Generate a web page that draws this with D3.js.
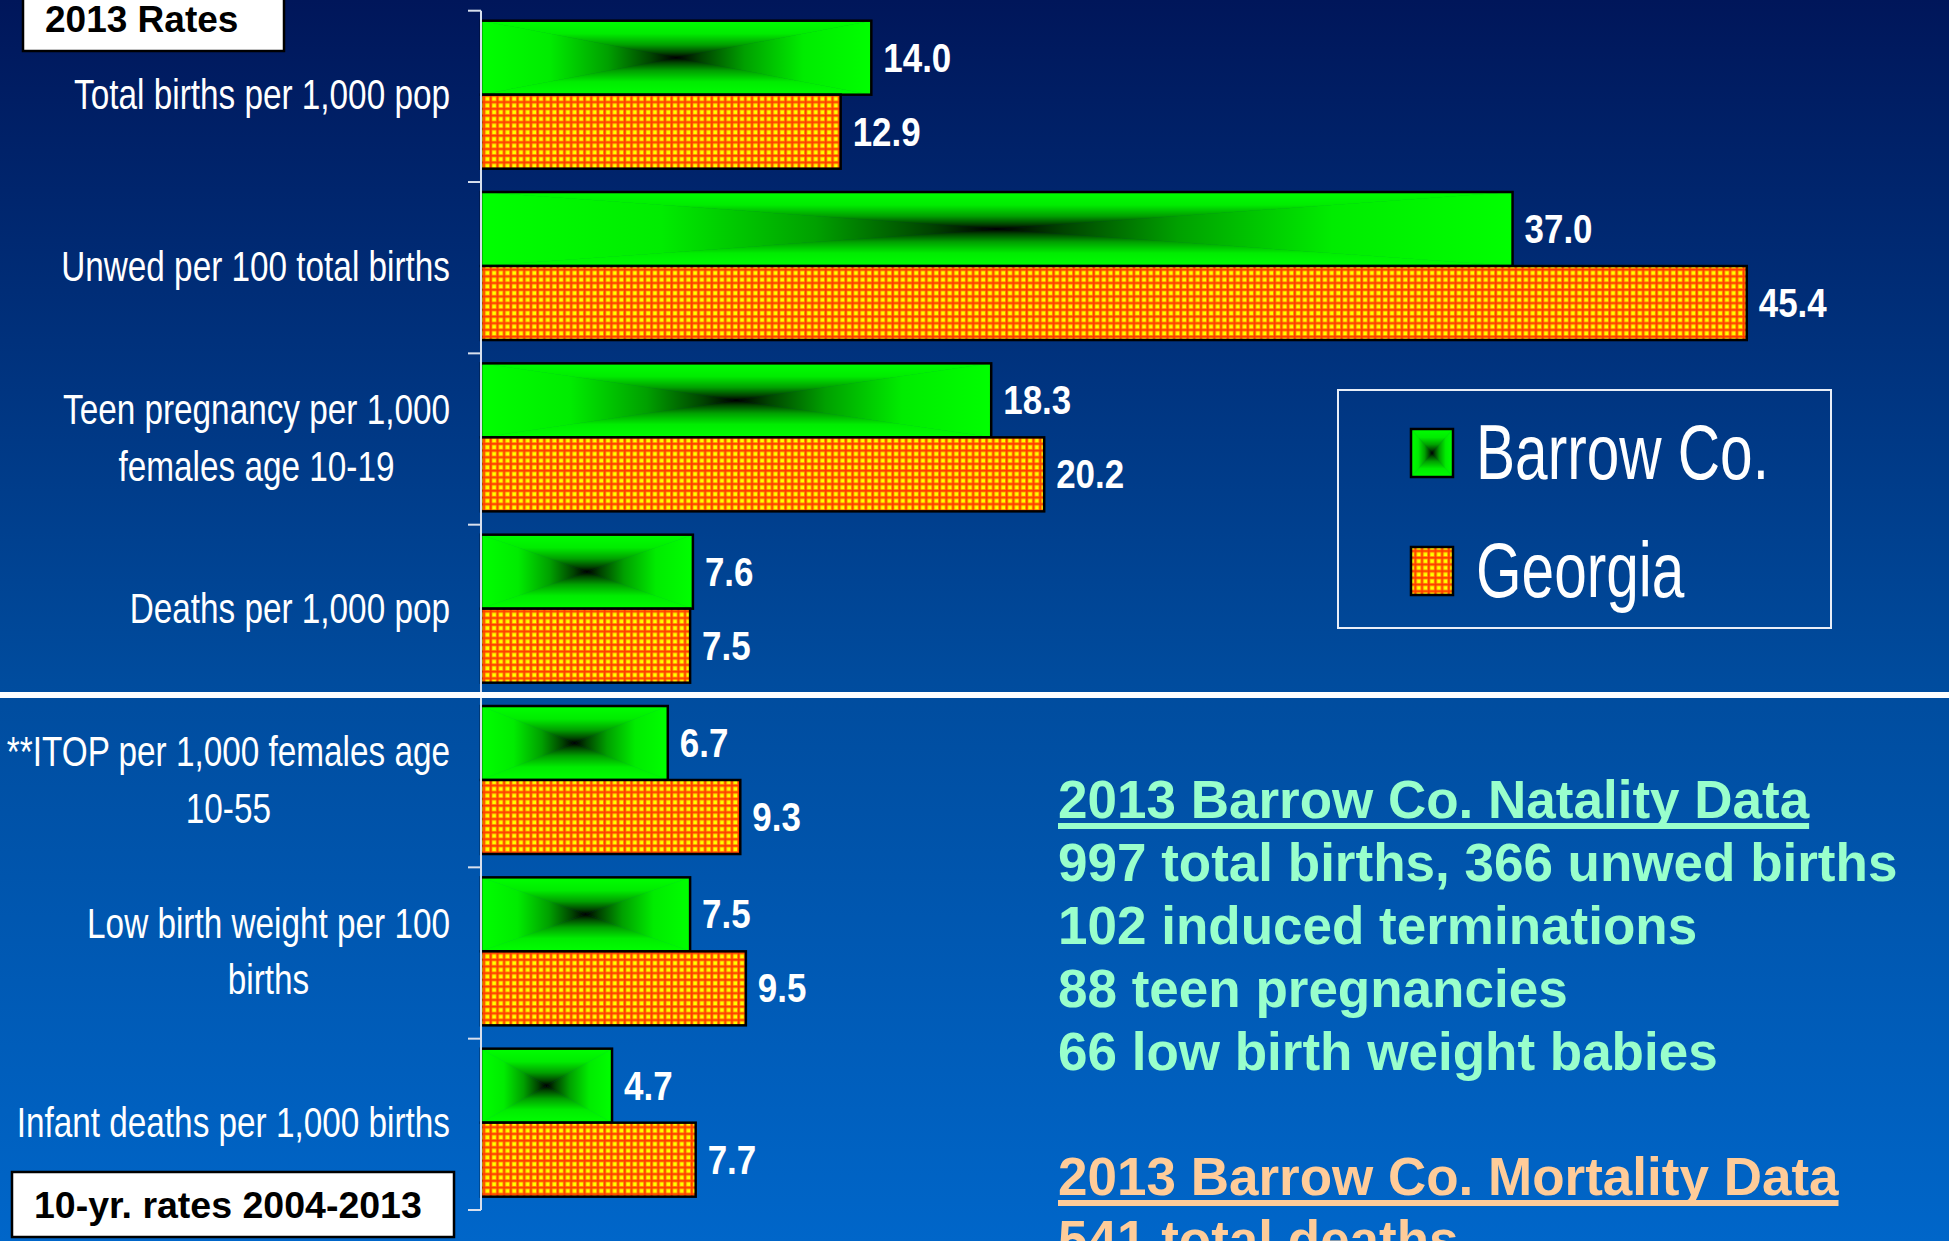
<!DOCTYPE html>
<html>
<head>
<meta charset="utf-8">
<script src="https://cdn.jsdelivr.net/npm/d3@7"></script>
<style>
    body { margin: 0; background: #001650; }
    svg { display: block; }
</style>
</head>
<body>
<svg id="chart"></svg>
<script>
const width = 1949;
const height = 1241;

// data
const categories = ["births", "unwed", "teen", "deaths", "itop", "lbw", "infant"];
const categoryLines = [
    ["Total births per 1,000 pop"],
    ["Unwed per 100 total births"],
    ["Teen pregnancy per 1,000", "females age 10-19"],
    ["Deaths per 1,000 pop"],
    ["**ITOP per 1,000 females age", "10-55"],
    ["Low birth weight per 100", "births"],
    ["Infant deaths per 1,000 births"]
];
const seriesNames = ["Barrow Co.", "Georgia"];
const barrowValues = [14.0, 37.0, 18.3, 7.6, 6.7, 7.5, 4.7];
const georgiaValues = [12.9, 45.4, 20.2, 7.5, 9.3, 9.5, 7.7];

const natalityTitle = "2013 Barrow Co. Natality Data";
const natalityLines = ["997 total births, 366 unwed births", "102 induced terminations",
    "88 teen pregnancies", "66 low birth weight babies"];
const mortalityTitle = "2013 Barrow Co. Mortality Data";
const mortalityLines = ["541 total deaths"];

const svg = d3.select("#chart").attr("width", width).attr("height", height);
const defs = svg.append("defs");

// background gradient
const bg = defs.append("linearGradient").attr("id", "bg")
    .attr("x1", 0).attr("y1", 0).attr("x2", 0).attr("y2", 1);
bg.append("stop").attr("offset", 0).attr("stop-color", "#00165a");
bg.append("stop").attr("offset", 0.55).attr("stop-color", "#004c9e");
bg.append("stop").attr("offset", 1).attr("stop-color", "#0066c9");
svg.append("rect").attr("width", width).attr("height", height).attr("fill", "url(#bg)");

// green "from center" gradient, built from four triangles
const greenStops = [[0, "#00ff00"], [0.35, "#00ec00"], [0.65, "#00a000"], [0.87, "#004400"], [1, "#000000"]];
const dirs = {
    gTop: [0, 0, 0, 1],
    gBottom: [0, 1, 0, 0],
    gLeft: [0, 0, 1, 0],
    gRight: [1, 0, 0, 0]
};
Object.keys(dirs).forEach(function (id) {
    const g = defs.append("linearGradient").attr("id", id)
        .attr("x1", dirs[id][0]).attr("y1", dirs[id][1])
        .attr("x2", dirs[id][2]).attr("y2", dirs[id][3]);
    greenStops.forEach(function (s) {
        g.append("stop").attr("offset", s[0]).attr("stop-color", s[1]);
    });
});

// yellow / red grid pattern
const cell = 6.7;
const pat = defs.append("pattern").attr("id", "grid")
    .attr("patternUnits", "userSpaceOnUse").attr("width", cell).attr("height", cell);
pat.append("rect").attr("width", cell).attr("height", cell).attr("fill", "#ffff00");
pat.append("rect").attr("width", 3.3).attr("height", cell).attr("fill", "#ff9a00");
pat.append("rect").attr("width", cell).attr("height", 3.3).attr("fill", "#ff9a00");
pat.append("rect").attr("x", 0.8).attr("width", 1.7).attr("height", cell).attr("fill", "#ff3c00");
pat.append("rect").attr("y", 0.8).attr("width", cell).attr("height", 1.7).attr("fill", "#ff3c00");

const xScale = d3.scaleLinear().domain([0, 50]).range([481, 1875]);
const yScale = d3.scaleBand().domain(categories).range([10.7, 1210]);
const subScale = d3.scaleBand().domain(seriesNames).range([10, 158]);

function greenBox(g, x0, y0, w, h) {
    const x1 = x0 + w, y1 = y0 + h;
    const cx = x0 + w / 2, cy = y0 + h / 2;
    const tris = [
        [[x0, y0], [x1, y0], [cx, cy], "gTop"],
        [[x0, y1], [x1, y1], [cx, cy], "gBottom"],
        [[x0, y0], [x0, y1], [cx, cy], "gLeft"],
        [[x1, y0], [x1, y1], [cx, cy], "gRight"]
    ];
    tris.forEach(function (t) {
        g.append("path")
            .attr("d", "M" + t[0] + "L" + t[1] + "L" + t[2] + "Z")
            .attr("fill", "url(#" + t[3] + ")")
            .attr("stroke", "url(#" + t[3] + ")")
            .attr("stroke-width", 0.6);
    });
    g.append("rect").attr("x", x0).attr("y", y0).attr("width", w).attr("height", h)
        .attr("fill", "none").attr("stroke", "#000").attr("stroke-width", 2.5);
}

const fmt = d3.format(".1f");
const sansFont = "'Liberation Sans', Arial, sans-serif";

// the slide uses a condensed face; squeeze Liberation Sans to the same width
function squeeze(sample, size, weight, target) {
    const t = svg.append("text").attr("font-family", sansFont)
        .attr("font-size", size).attr("font-weight", weight).text(sample);
    const w = t.node().getComputedTextLength();
    t.remove();
    return target / w;
}
const labelSqueeze = squeeze("Total births per 1,000 pop", 43, "normal", 376);
const valueSqueeze = squeeze("14.0", 41, "bold", 68);
const legendSqueeze = squeeze("Barrow Co.", 77, "normal", 293);

// bars
const bars = svg.append("g");
categories.forEach(function (c, i) {
    const yb = yScale(c) + subScale("Barrow Co.");
    const yg = yScale(c) + subScale("Georgia");
    const h = subScale.bandwidth();

    greenBox(bars, xScale(0), yb, xScale(barrowValues[i]) - xScale(0), h);

    bars.append("rect")
        .attr("x", xScale(0)).attr("y", yg)
        .attr("width", xScale(georgiaValues[i]) - xScale(0)).attr("height", h)
        .attr("fill", "url(#grid)").attr("stroke", "#000").attr("stroke-width", 2.5);

    [[barrowValues[i], yb], [georgiaValues[i], yg]].forEach(function (d) {
        bars.append("text")
            .attr("transform", "translate(" + (xScale(d[0]) + 12) + "," + (d[1] + h / 2 + 14) + ") scale(" + valueSqueeze + ",1)")
            .attr("font-family", sansFont)
            .attr("font-weight", "bold")
            .attr("font-size", 41)
            .attr("fill", "#fff")
            .text(fmt(d[0]));
    });
});

// axis with ticks between categories
const axis = svg.append("g").attr("stroke", "#d8e0ee").attr("stroke-width", 2);
axis.append("line").attr("x1", 481).attr("x2", 481)
    .attr("y1", yScale.range()[0]).attr("y2", yScale.range()[1]);
categories.concat(["end"]).forEach(function (c) {
    const y = c === "end" ? yScale.range()[1] : yScale(c);
    axis.append("line").attr("x1", 468).attr("x2", 481).attr("y1", y).attr("y2", y);
});

// category labels, right aligned block, lines centred
const labels = svg.append("g")
    .attr("transform", "translate(450,0) scale(" + labelSqueeze + ",1)")
    .attr("font-family", sansFont)
    .attr("font-size", 43)
    .attr("fill", "#fff");
categories.forEach(function (c, i) {
    const lines = categoryLines[i];
    const cy = yScale(c) + yScale.bandwidth() / 2;
    const lh = 57;
    const t = labels.append("text").attr("text-anchor", "middle");
    lines.forEach(function (line, j) {
        t.append("tspan")
            .attr("y", cy + 13 + (j - (lines.length - 1) / 2) * lh)
            .text(line);
    });
    let w = 0;
    t.selectAll("tspan").each(function () {
        w = Math.max(w, this.getComputedTextLength());
    });
    t.selectAll("tspan").attr("x", -w / 2);
});

// separator between 2013 rates and 10-yr rates
svg.append("rect").attr("x", 0).attr("y", 692).attr("width", width).attr("height", 6).attr("fill", "#fff");

// boxed titles
function boxTitle(x, y, w, h, text, tx, ty, size) {
    svg.append("rect").attr("x", x).attr("y", y).attr("width", w).attr("height", h)
        .attr("fill", "#fff").attr("stroke", "#000").attr("stroke-width", 2.5);
    svg.append("text").attr("x", tx).attr("y", ty)
        .attr("font-family", sansFont).attr("font-weight", "bold")
        .attr("font-size", size).attr("fill", "#000").text(text);
}
boxTitle(23, -5, 261, 56, "2013 Rates", 45, 32, 37);
boxTitle(12, 1172, 442, 65, "10-yr. rates 2004-2013", 34, 1218, 37.5);

// legend
const legend = svg.append("g");
legend.append("rect").attr("x", 1338).attr("y", 390).attr("width", 493).attr("height", 238)
    .attr("fill", "none").attr("stroke", "#e8eef8").attr("stroke-width", 2);
greenBox(legend, 1411, 429, 42, 48);
legend.append("rect").attr("x", 1411).attr("y", 547).attr("width", 42).attr("height", 48)
    .attr("fill", "url(#grid)").attr("stroke", "#000").attr("stroke-width", 2.5);
legend.selectAll(".legend-text").data(seriesNames).enter()
    .append("text")
    .attr("transform", function (d, i) {
        return "translate(1476," + (479 + i * 118) + ") scale(" + legendSqueeze + ",1)";
    })
    .attr("font-family", sansFont)
    .attr("font-size", 77)
    .attr("fill", "#fff")
    .text(function (d) { return d; });

// notes on the right
function noteBlock(title, lines, y0, color) {
    const lh = 63;
    const t = svg.append("text").attr("x", 1058).attr("y", y0)
        .attr("font-family", sansFont).attr("font-weight", "bold")
        .attr("font-size", 53).attr("fill", color).text(title);
    svg.append("rect").attr("x", 1058).attr("y", y0 + 5)
        .attr("width", t.node().getComputedTextLength()).attr("height", 6).attr("fill", color);
    lines.forEach(function (line, i) {
        svg.append("text").attr("x", 1058).attr("y", y0 + (i + 1) * lh)
            .attr("font-family", sansFont).attr("font-weight", "bold")
            .attr("font-size", 53).attr("fill", color).text(line);
    });
}
noteBlock(natalityTitle, natalityLines, 818, "#99ffcc");
noteBlock(mortalityTitle, mortalityLines, 1195, "#ffcc99");
</script>
</body>
</html>
